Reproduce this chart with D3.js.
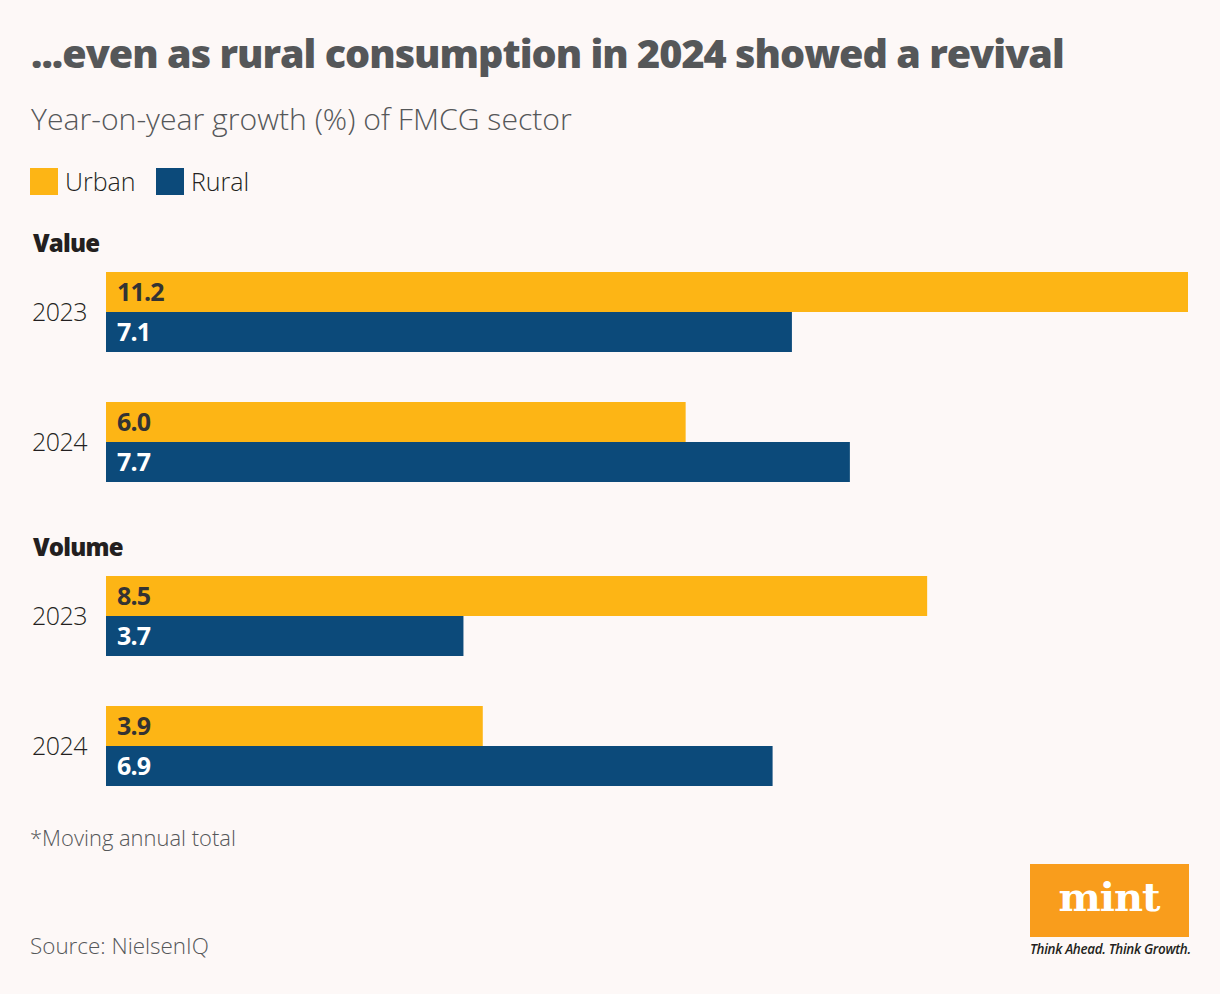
<!DOCTYPE html>
<html>
<head>
<meta charset="utf-8">
<script src="https://cdn.jsdelivr.net/npm/d3@7"></script>
<style>
  html, body { margin: 0; padding: 0; background: #fdf8f7; }
  svg { display: block; font-family: "Open Sans", "Noto Sans", sans-serif; }
</style>
</head>
<body>
<div id="content"></div>
<script>
// data
let sections = ["Value", "Volume"];
let years = ["2023", "2024"];
let seriesNames = ["Urban", "Rural"];
let valueUrban = [11.2, 6.0];
let valueRural = [7.1, 7.7];
let volumeUrban = [8.5, 3.9];
let volumeRural = [3.7, 6.9];

let colors = { Urban: "#fdb515", Rural: "#0c4a7a" };

const width = 1220, height = 994;

let svg = d3.select("#content")
    .append("svg")
    .attr("width", width)
    .attr("height", height);

svg.append("rect")
    .attr("width", width)
    .attr("height", height)
    .attr("fill", "#fdf8f7");

// fit a text element to a target width by adjusting font size
function fitText(sel, target)
{
    let node = sel.node();
    let len = node.getComputedTextLength();
    let size = parseFloat(sel.attr("font-size"));
    sel.attr("font-size", size * target / len);
}

let title = svg.append("text")
    .attr("x", 31)
    .attr("y", 68)
    .attr("font-size", 38)
    .attr("font-weight", 800)
    .attr("fill", "#555759")
    .style("letter-spacing", "-1px")
    .text("...even as rural consumption in 2024 showed a revival");
fitText(title, 1031);

let subtitle = svg.append("text")
    .attr("x", 31)
    .attr("y", 130)
    .attr("font-size", 28)
    .attr("font-weight", 300)
    .attr("fill", "#555759")
    .text("Year-on-year growth (%) of FMCG sector");
fitText(subtitle, 541);

// legend
let legendX = [30, 156];
seriesNames.forEach(function(d, i)
{
    svg.append("rect")
        .attr("x", legendX[i])
        .attr("y", 168)
        .attr("width", 28)
        .attr("height", 27)
        .attr("fill", colors[d]);

    svg.append("text")
        .attr("x", legendX[i] + 35)
        .attr("y", 191)
        .attr("font-size", 25)
        .attr("font-weight", 300)
        .attr("fill", "#231f20")
        .text(d);
});

// scales
const x = d3.scaleLinear()
    .domain([0, 11.2])
    .range([106, 1188]);

const yGroup = d3.scaleBand()
    .domain(years)
    .range([0, 210])
    .paddingInner(50 / 130)
    .paddingOuter(0);

const ySeries = d3.scaleBand()
    .domain(seriesNames)
    .range([0, yGroup.bandwidth()]);

let sectionData = [
    { name: sections[0], urban: valueUrban, rural: valueRural, top: 272 },
    { name: sections[1], urban: volumeUrban, rural: volumeRural, top: 576 }
];

sectionData.forEach(function(s)
{
    svg.append("text")
        .attr("x", 33)
        .attr("y", s.top - 20)
        .attr("font-size", 24)
        .attr("font-weight", 800)
        .attr("fill", "#231f20")
        .style("letter-spacing", "-0.8px")
        .text(s.name);

    let g = svg.append("g")
        .attr("transform", "translate(0," + s.top + ")");

    years.forEach(function(yr, i)
    {
        let rows = [
            { series: "Urban", value: s.urban[i] },
            { series: "Rural", value: s.rural[i] }
        ];

        let yg = g.append("g")
            .attr("transform", "translate(0," + yGroup(yr) + ")");

        yg.append("text")
            .attr("x", 87)
            .attr("y", yGroup.bandwidth() / 2 + 9)
            .attr("text-anchor", "end")
            .attr("font-size", 25)
            .attr("font-weight", 300)
            .attr("fill", "#231f20")
            .style("letter-spacing", "-0.5px")
            .text(yr);

        yg.selectAll("rect")
            .data(rows)
            .enter()
            .append("rect")
            .attr("x", x(0))
            .attr("y", function(d) { return ySeries(d.series); })
            .attr("width", function(d) { return x(d.value) - x(0); })
            .attr("height", ySeries.bandwidth())
            .attr("fill", function(d) { return colors[d.series]; });

        yg.selectAll(".bar-label")
            .data(rows)
            .enter()
            .append("text")
            .attr("class", "bar-label")
            .attr("x", x(0) + 11)
            .attr("y", function(d) { return ySeries(d.series) + ySeries.bandwidth() / 2 + 9; })
            .attr("font-size", 25)
            .attr("font-weight", 700)
            .attr("fill", function(d) { return d.series == "Urban" ? "#333333" : "#ffffff"; })
            .style("letter-spacing", "-0.8px")
            .text(function(d) { return d.value.toFixed(1); });
    });
});

// footnote and source
let footnote = svg.append("text")
    .attr("x", 30)
    .attr("y", 846)
    .attr("font-size", 22)
    .attr("font-weight", 300)
    .attr("fill", "#555759")
    .text("*Moving annual total");
fitText(footnote, 206);

let source = svg.append("text")
    .attr("x", 30)
    .attr("y", 954)
    .attr("font-size", 22)
    .attr("font-weight", 300)
    .attr("fill", "#555759")
    .text("Source: NielsenIQ");
fitText(source, 179);

// mint logo
svg.append("rect")
    .attr("x", 1030)
    .attr("y", 864)
    .attr("width", 159)
    .attr("height", 73)
    .attr("fill", "#f99d1c");

svg.append("text")
    .attr("x", 1109)
    .attr("y", 911)
    .attr("text-anchor", "middle")
    .attr("font-family", "'DejaVu Serif', serif")
    .attr("font-size", 40)
    .attr("font-weight", 700)
    .attr("fill", "#ffffff")
    .style("letter-spacing", "-1px")
    .text("mint");

let tagline = svg.append("text")
    .attr("x", 1030)
    .attr("y", 954)
    .attr("font-size", 12)
    .attr("font-style", "italic")
    .attr("font-weight", 600)
    .attr("fill", "#231f20")
    .style("letter-spacing", "-0.3px")
    .text("Think Ahead. Think Growth.");
fitText(tagline, 160);
</script>
</body>
</html>
